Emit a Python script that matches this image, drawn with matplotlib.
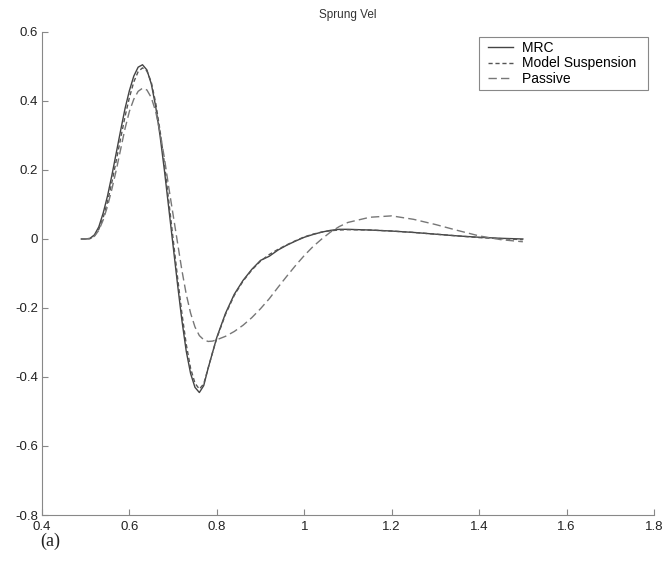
import matplotlib
matplotlib.use("Agg")
import matplotlib.pyplot as plt
from matplotlib.ticker import FuncFormatter
from matplotlib.lines import Line2D
from matplotlib.legend_handler import HandlerLine2D

plt.rcParams["font.family"] = ["Liberation Sans", "DejaVu Sans"]
plt.rcParams["axes.unicode_minus"] = False

# time (s)
t = [0.49, 0.50, 0.51, 0.52, 0.53, 0.54, 0.55, 0.56, 0.57, 0.58, 0.59, 0.60,
     0.61, 0.62, 0.63, 0.64, 0.65, 0.66, 0.67, 0.68, 0.69, 0.70, 0.71, 0.72,
     0.73, 0.74, 0.75, 0.76, 0.77, 0.78, 0.79, 0.80, 0.82, 0.84, 0.86, 0.88,
     0.90, 0.92, 0.94, 0.96, 0.98, 1.00, 1.02, 1.04, 1.06, 1.08, 1.10, 1.15,
     1.20, 1.25, 1.30, 1.35, 1.40, 1.45, 1.50]

mrc = [0.0, 0.0, 0.002, 0.012, 0.035, 0.075, 0.125, 0.185, 0.250, 0.315, 0.378, 0.430,
       0.472, 0.498, 0.505, 0.490, 0.450, 0.385, 0.300, 0.200, 0.090, -0.020, -0.130, -0.235,
       -0.325, -0.390, -0.430, -0.445, -0.425, -0.375, -0.330, -0.285, -0.215, -0.160, -0.120, -0.088,
       -0.062, -0.050, -0.032, -0.018, -0.006, 0.005, 0.013, 0.020, 0.025, 0.028, 0.028, 0.026,
       0.023, 0.019, 0.014, 0.009, 0.005, 0.002, 0.0]

model = [0.0, 0.0, 0.001, 0.009, 0.028, 0.062, 0.108, 0.165, 0.228, 0.292, 0.355, 0.410,
         0.455, 0.485, 0.496, 0.487, 0.455, 0.395, 0.315, 0.220, 0.110, 0.0, -0.110, -0.215,
         -0.305, -0.375, -0.418, -0.435, -0.420, -0.375, -0.330, -0.287, -0.218, -0.163, -0.122, -0.090,
         -0.064, -0.045, -0.030, -0.017, -0.005, 0.006, 0.014, 0.020, 0.024, 0.026, 0.027, 0.026,
         0.023, 0.019, 0.014, 0.009, 0.004, 0.001, -0.002]

passive = [0.0, 0.0, 0.001, 0.008, 0.025, 0.055, 0.095, 0.145, 0.200, 0.260, 0.320, 0.370,
           0.405, 0.428, 0.437, 0.432, 0.410, 0.370, 0.310, 0.235, 0.150, 0.070, -0.010, -0.090,
           -0.160, -0.215, -0.255, -0.280, -0.292, -0.297, -0.296, -0.292, -0.282, -0.268, -0.250, -0.228,
           -0.202, -0.173, -0.140, -0.108, -0.077, -0.048, -0.022, 0.0, 0.020, 0.036, 0.048, 0.063,
           0.067, 0.057, 0.042, 0.025, 0.009, -0.002, -0.008]

fig = plt.figure(figsize=(6.63, 5.66), dpi=100)
ax = fig.add_axes([0.0633, 0.0901, 0.9231, 0.8534])

ax.plot(t, mrc, color="#444444", linewidth=1.0, label="MRC")
ax.plot(t, model, color="#555555", linewidth=1.0, linestyle=(0, (3, 2)), label="Model Suspension")
ax.plot(t, passive, color="#777777", linewidth=1.0, linestyle=(0, (6, 3)), label="Passive")

ax.set_xlim(0.4, 1.8)
ax.set_ylim(-0.8, 0.6)
ax.set_xticks([0.4, 0.6, 0.8, 1.0, 1.2, 1.4, 1.6, 1.8])
ax.set_yticks([-0.8, -0.6, -0.4, -0.2, 0, 0.2, 0.4, 0.6])
fmt = FuncFormatter(lambda v, p: "%g" % round(v, 2))
ax.xaxis.set_major_formatter(fmt)
ax.yaxis.set_major_formatter(fmt)
ax.tick_params(direction="in", length=4, width=0.8, color="#888888",
               labelsize=9.5, labelcolor="#222222")
ax.tick_params(axis="x", pad=4)
ax.tick_params(axis="y", pad=3)

ax.spines["top"].set_visible(False)
ax.spines["right"].set_visible(False)
for s in ["left", "bottom"]:
    ax.spines[s].set_color("#888888")
    ax.spines[s].set_linewidth(0.8)

ax.set_title("Sprung Vel", fontsize=8.5, color="#333333", pad=10)

# extra space inside the legend box, like the original
handles, labels = ax.get_legend_handles_labels()
labels = [lab + "  " for lab in labels]
leg = ax.legend(handles, labels, loc="upper right", bbox_to_anchor=(0.99, 0.99),
                borderaxespad=0, fontsize=10, fancybox=False, handlelength=2.2,
                handletextpad=0.6, labelspacing=0.1, borderpad=0.3, framealpha=1,
                handler_map={Line2D: HandlerLine2D(xpad=0.4)})
leg.get_frame().set_edgecolor("#888888")
leg.get_frame().set_linewidth(0.8)

fig.text(0.06, 0.035, "(a)", fontsize=13, family="Liberation Serif", color="#222222")

fig.savefig("out.png", dpi=100)
